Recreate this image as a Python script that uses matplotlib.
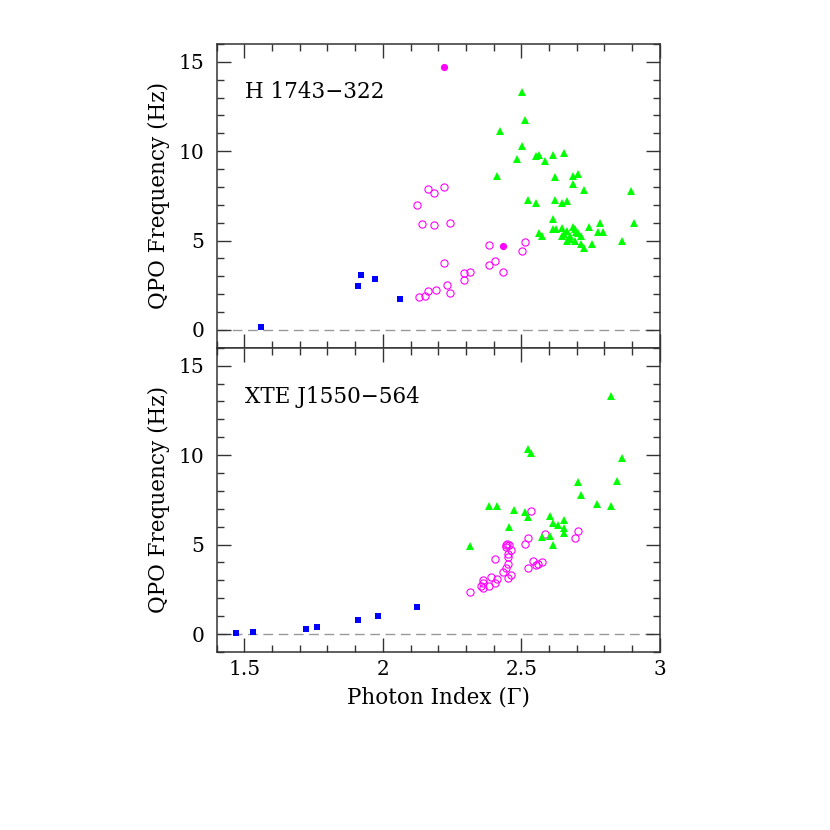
import matplotlib
matplotlib.use("Agg")
import matplotlib.pyplot as plt
from matplotlib.ticker import MultipleLocator

# ---------------- H 1743-322 ----------------
h_sq_x = [1.561, 1.912, 1.922, 1.972, 2.062]
h_sq_y = [0.17, 2.47, 3.07, 2.83, 1.73]

h_fc_x = [2.222, 2.434]
h_fc_y = [14.70, 4.68]

h_oc_x = [2.123, 2.162, 2.183, 2.222, 2.142, 2.183, 2.242, 2.222, 2.383, 2.514,
          2.503, 2.293, 2.313, 2.293, 2.383, 2.404, 2.434, 2.232, 2.242, 2.132,
          2.152, 2.162, 2.192]
h_oc_y = [7.01, 7.86, 7.64, 8.01, 5.91, 5.86, 5.97, 3.75, 4.74, 4.91,
          4.42, 3.16, 3.25, 2.77, 3.64, 3.83, 3.23, 2.51, 2.08, 1.84,
          1.90, 2.16, 2.23]

h_tr_x = [2.504, 2.514, 2.423, 2.504, 2.483, 2.553, 2.564, 2.585, 2.615, 2.654,
          2.413, 2.623, 2.685, 2.704, 2.685, 2.725, 2.524, 2.553, 2.623, 2.645,
          2.665, 2.895,
          2.614, 2.562, 2.574, 2.614, 2.624, 2.645, 2.665, 2.685, 2.692, 2.697,
          2.645, 2.675, 2.665, 2.715, 2.692, 2.715, 2.725, 2.745, 2.755, 2.785,
          2.775, 2.796, 2.865, 2.906, 2.654, 2.674, 2.704]
h_tr_y = [13.29, 11.75, 11.15, 10.30, 9.59, 9.74, 9.78, 9.44, 9.78, 9.89,
          8.61, 8.55, 8.64, 8.75, 8.18, 7.84, 7.25, 7.10, 7.25, 7.10,
          7.19, 7.77,
          6.19, 5.41, 5.26, 5.63, 5.63, 5.72, 5.52, 5.76, 5.63, 5.48,
          5.26, 5.26, 4.96, 5.26, 4.96, 4.83, 4.61, 5.76, 4.83, 6.00,
          5.50, 5.46, 4.98, 5.97, 5.37, 5.11, 5.40]

# ---------------- XTE J1550-564 ----------------
x_sq_x = [1.471, 1.530, 1.721, 1.761, 1.912, 1.983, 2.123]
x_sq_y = [0.07, 0.11, 0.28, 0.37, 0.80, 1.03, 1.51]

x_tr_x = [2.825, 2.523, 2.534, 2.865, 2.704, 2.846, 2.715, 2.774, 2.825, 2.383,
          2.413, 2.473, 2.513, 2.524, 2.604, 2.613, 2.633, 2.654, 2.654, 2.654,
          2.454, 2.574, 2.604, 2.613, 2.313]
x_tr_y = [13.28, 10.36, 10.13, 9.85, 8.48, 8.56, 7.75, 7.25, 7.13, 7.13,
          7.13, 6.91, 6.82, 6.52, 6.59, 6.18, 6.12, 6.40, 5.90, 5.66,
          6.01, 5.43, 5.49, 4.98, 4.91]

x_oc_x = [2.534, 2.584, 2.524, 2.513, 2.703, 2.694, 2.443, 2.454, 2.443, 2.464,
          2.453, 2.453, 2.453, 2.404, 2.523, 2.543, 2.554, 2.574, 2.443, 2.433,
          2.464, 2.453, 2.413, 2.392, 2.404, 2.383, 2.363, 2.363, 2.353, 2.363,
          2.313, 2.450, 2.560]
x_oc_y = [6.85, 5.58, 5.37, 5.06, 5.75, 5.39, 5.00, 5.00, 4.85, 4.72,
          4.49, 4.29, 3.91, 4.18, 3.67, 4.10, 3.88, 4.01, 3.67, 3.45,
          3.31, 3.16, 3.05, 3.18, 2.85, 2.68, 3.03, 2.85, 2.68, 2.55,
          2.36, 5.05, 3.90]

x_ticks = [1.5, 2, 2.5, 3]
x_ticklabels = ["1.5", "2", "2.5", "3"]
y_ticks = [0, 5, 10, 15]
y_ticklabels = ["0", "5", "10", "15"]

names = ["H 1743\u2212322", "XTE J1550\u2212564"]

plt.rcParams['font.family'] = ['DejaVu Serif']
plt.rcParams['mathtext.fontset'] = 'dejavuserif'

BLUE = '#0000FF'
MAG = '#FF00FF'
GRN = '#00FF00'
SPINE = '#333333'

fig = plt.figure(figsize=(8.3, 8.3), dpi=100)
ax1 = fig.add_axes([0.261, 0.581, 0.534, 0.366])
ax2 = fig.add_axes([0.261, 0.2145, 0.534, 0.3665])


def style(ax, show_xlabels):
    ax.set_xlim(1.4, 3.0)
    ax.set_ylim(-1, 16)
    ax.axhline(0, color='#999999', lw=1.0, dashes=(7, 4), zorder=1)
    ax.set_xticks(x_ticks)
    ax.set_yticks(y_ticks)
    ax.set_yticklabels(y_ticklabels)
    if show_xlabels:
        ax.set_xticklabels(x_ticklabels)
    else:
        ax.set_xticklabels([])
    ax.xaxis.set_minor_locator(MultipleLocator(0.1))
    ax.yaxis.set_minor_locator(MultipleLocator(1))
    ax.tick_params(which='both', direction='in', top=True, right=True,
                   color=SPINE, width=1.0, labelsize=14.5)
    ax.tick_params(which='major', length=10)
    ax.tick_params(which='minor', length=5)
    ax.tick_params(axis='y', which='major', pad=9)
    ax.tick_params(axis='x', which='major', pad=6)
    for s in ax.spines.values():
        s.set_color(SPINE)
        s.set_linewidth(1.1)
    ax.set_ylabel("QPO Frequency (Hz)", fontsize=15.5, labelpad=6)


style(ax1, False)
style(ax2, True)

# top panel
ax1.plot(h_sq_x, h_sq_y, 's', color=BLUE, ms=4.3, mew=0, zorder=3)
ax1.plot(h_oc_x, h_oc_y, 'o', mfc='none', mec=MAG, ms=5.2, mew=0.8, zorder=3)
ax1.plot(h_fc_x, h_fc_y, 'o', color=MAG, ms=5.2, mew=0, zorder=3)
ax1.plot(h_tr_x, h_tr_y, '^', color=GRN, ms=5.2, mew=0, zorder=3)
ax1.text(0.065, 0.842, names[0], transform=ax1.transAxes, fontsize=15.5,
         ha='left', va='center')

# bottom panel
ax2.plot(x_sq_x, x_sq_y, 's', color=BLUE, ms=4.3, mew=0, zorder=3)
ax2.plot(x_oc_x, x_oc_y, 'o', mfc='none', mec=MAG, ms=5.2, mew=0.8, zorder=3)
ax2.plot(x_tr_x, x_tr_y, '^', color=GRN, ms=5.2, mew=0, zorder=3)
ax2.text(0.065, 0.839, names[1], transform=ax2.transAxes, fontsize=15.5,
         ha='left', va='center')
ax2.set_xlabel("Photon Index (\u0393)", fontsize=15.5, labelpad=5)

fig.savefig("out.png", dpi=100)
